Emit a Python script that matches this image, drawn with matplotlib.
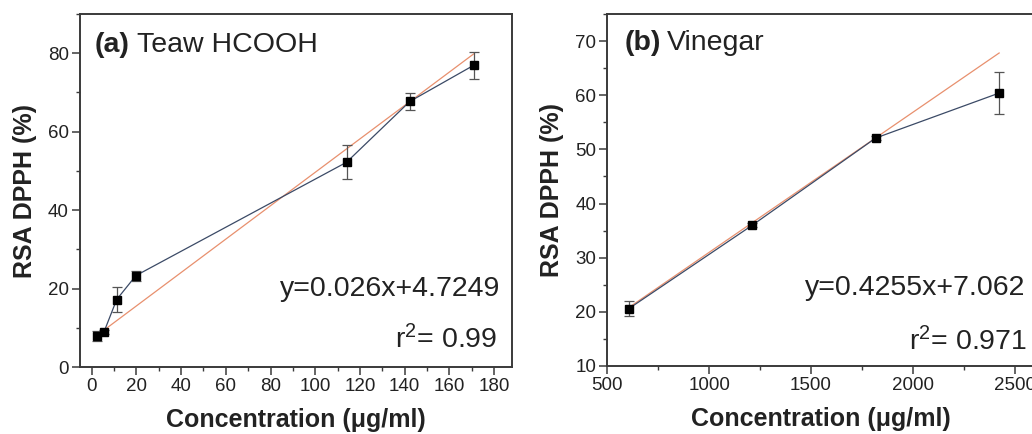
import matplotlib
matplotlib.use("Agg")
import matplotlib.pyplot as plt
from matplotlib.ticker import MultipleLocator

plt.rcParams['font.family'] = ['Liberation Sans', 'DejaVu Sans']
plt.rcParams['mathtext.fontset'] = 'custom'
plt.rcParams['mathtext.rm'] = 'Liberation Sans'
plt.rcParams['mathtext.it'] = 'Liberation Sans'

# Panel (a) Teaw HCOOH
conc_a = [2.5, 5.5, 11.2, 19.8, 114, 142.3, 170.8]
rsa_a = [7.9, 8.9, 17.2, 23.3, 52.2, 67.7, 76.9]
err_a = [1.2, 0.6, 3.3, 1.3, 4.3, 2.2, 3.5]
fit_a_x = [5.3, 170.8]
fit_a_y = [9.3, 79.8]

# Panel (b) Vinegar
conc_b = [606, 1212, 1818, 2424]
rsa_b = [20.6, 36.0, 52.1, 60.4]
err_b = [1.4, 0.4, 0.4, 3.9]
fit_b_x = [606, 2424]
fit_b_y = [20.8, 67.8]

xticks_a = [0, 20, 40, 60, 80, 100, 120, 140, 160, 180]
yticks_a = [0, 20, 40, 60, 80]
xticks_b = [500, 1000, 1500, 2000, 2500]
yticks_b = [10, 20, 30, 40, 50, 60, 70]

W, H = 1032, 434
fig = plt.figure(figsize=(W / 100, H / 100), dpi=100)

def px_axes(l, r, t, b):
    return fig.add_axes([l / W, (H - b) / H, (r - l) / W, (b - t) / H])

ax_a = px_axes(80, 512, 14, 367)
ax_b = px_axes(607.3, 1035, 14, 366)

frame_col = '#3a3a3a'
text_col = '#222222'
line_col = '#3b4a66'
fit_col = '#e8906e'
BIG = 20.5

def style(ax):
    for s in ax.spines.values():
        s.set_color(frame_col)
        s.set_linewidth(1.4)
    ax.tick_params(which='major', direction='out', length=5.5, width=1.1,
                   color=frame_col, labelsize=13.5, labelcolor=text_col, pad=2.5)
    ax.tick_params(which='minor', direction='out', length=3, width=1.0,
                   color=frame_col)
    ax.set_xlabel('Concentration (\u03bcg/ml)', fontsize=18, fontweight='bold',
                  color=text_col, labelpad=9)
    ax.set_ylabel('RSA DPPH (%)', fontsize=18, fontweight='bold',
                  color=text_col, labelpad=8)

# (a)
ax_a.plot(fit_a_x, fit_a_y, color=fit_col, lw=0.9, zorder=2)
ax_a.errorbar(conc_a, rsa_a, yerr=err_a, fmt='s-', color=line_col, lw=0.9,
              ms=5.2, mfc='black', mec='black', ecolor='#555555',
              elinewidth=0.9, capsize=3.5, capthick=0.9, zorder=3)
ax_a.set_xlim(-5.2, 188)
ax_a.set_ylim(0, 90)
ax_a.set_xticks(xticks_a)
ax_a.set_yticks(yticks_a)
ax_a.xaxis.set_minor_locator(MultipleLocator(10))
ax_a.yaxis.set_minor_locator(MultipleLocator(10))
style(ax_a)
ax_a.text(0.035, 0.912, '(a)', transform=ax_a.transAxes, fontsize=BIG,
          fontweight='bold', color=text_col, va='center', ha='left')
ax_a.text(0.133, 0.912, 'Teaw HCOOH', transform=ax_a.transAxes, fontsize=BIG,
          color=text_col, va='center', ha='left')
ax_a.text(0.972, 0.221, 'y=0.026x+4.7249', transform=ax_a.transAxes,
          fontsize=BIG, color=text_col, va='center', ha='right')
ax_a.text(0.965, 0.0765, r'r$^{2}$= 0.99', transform=ax_a.transAxes,
          fontsize=BIG, color=text_col, va='center', ha='right')

# (b)
ax_b.plot(fit_b_x, fit_b_y, color=fit_col, lw=0.9, zorder=2)
ax_b.errorbar(conc_b, rsa_b, yerr=err_b, fmt='s-', color=line_col, lw=0.9,
              ms=5.2, mfc='black', mec='black', ecolor='#555555',
              elinewidth=0.9, capsize=3.5, capthick=0.9, zorder=3)
ax_b.set_xlim(500, 2600)
ax_b.set_ylim(10, 75)
ax_b.set_xticks(xticks_b)
ax_b.set_yticks(yticks_b)
ax_b.xaxis.set_minor_locator(MultipleLocator(250))
ax_b.yaxis.set_minor_locator(MultipleLocator(5))
style(ax_b)
ax_b.text(0.041, 0.918, '(b)', transform=ax_b.transAxes, fontsize=BIG,
          fontweight='bold', color=text_col, va='center', ha='left')
ax_b.text(0.14, 0.918, 'Vinegar', transform=ax_b.transAxes, fontsize=BIG,
          color=text_col, va='center', ha='left')
ax_b.text(0.977, 0.2216, 'y=0.4255x+7.062', transform=ax_b.transAxes,
          fontsize=BIG, color=text_col, va='center', ha='right')
ax_b.text(0.981, 0.069, r'r$^{2}$= 0.971', transform=ax_b.transAxes,
          fontsize=BIG, color=text_col, va='center', ha='right')

fig.savefig('out.png', dpi=100)
